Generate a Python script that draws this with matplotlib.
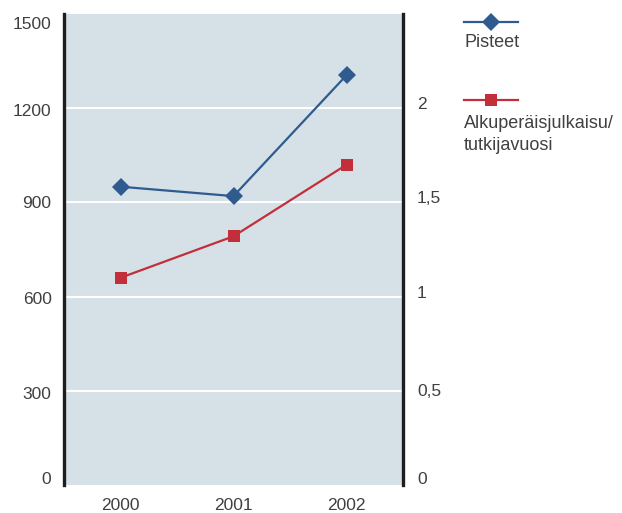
import matplotlib
matplotlib.use("Agg")
import matplotlib.pyplot as plt
from matplotlib.lines import Line2D
from matplotlib.ticker import FixedLocator, FuncFormatter
import matplotlib.transforms as mtransforms

plt.rcParams['font.family'] = ['Liberation Sans', 'DejaVu Sans']

years = [2000, 2001, 2002]
pisteet = [950, 920, 1305]
julkaisut_per_tutkija = [1.10, 1.32, 1.70]

left_ticks = [0, 300, 600, 900, 1200, 1500]
right_ticks = [0, 0.5, 1, 1.5, 2]
labels = ["Pisteet", "Alkuperäisjulkaisu/\ntutkijavuosi"]

blue = "#2f5b8f"
red = "#c22f3a"
bg = "#d6e1e7"
text_col = "#404040"
fs = 12.5

fig = plt.figure(figsize=(6.22, 5.13), dpi=100)
W, H = 622, 513
ax = fig.add_axes([64 / W, 1 - 485 / H, (403 - 64) / W, (485 - 14) / H])
ax.set_facecolor(bg)
ax.set_xlim(1999.5, 2002.5)
ax.set_ylim(0, 1500)

ax2 = ax.twinx()
ax2.set_ylim(0, 2.5)

# white horizontal grid
for v in left_ticks[1:-1]:
    ax.axhline(v, color="white", lw=1.5, zorder=1)

ax.plot(years, pisteet, color=blue, lw=1.6, marker="D", ms=8.8,
        markeredgewidth=0, zorder=3)
ax2.plot(years, julkaisut_per_tutkija, color=red, lw=1.6, marker="s", ms=8,
         markeredgewidth=0, zorder=3)

for a in (ax, ax2):
    for s in ("top", "bottom"):
        a.spines[s].set_visible(False)
    a.tick_params(length=0, labelsize=fs, labelcolor=text_col)
ax.spines["left"].set_linewidth(2.4)
ax.spines["left"].set_color("#1e1e1e")
ax.spines["right"].set_visible(False)
ax2.spines["left"].set_visible(False)
ax2.spines["right"].set_linewidth(2.4)
ax2.spines["right"].set_color("#1e1e1e")

ax.set_xticks(years)
ax.set_xticklabels([str(y) for y in years])
ax.tick_params(axis="x", pad=9)
ax.tick_params(axis="y", pad=9)
ax.yaxis.set_major_locator(FixedLocator(left_ticks))

ax2.yaxis.set_major_locator(FixedLocator(right_ticks))
ax2.yaxis.set_major_formatter(FuncFormatter(
    lambda v, p: ("%g" % v).replace(".", ",")))
ax2.tick_params(axis="y", pad=10)


def shift(label, dy_px):
    off = mtransforms.ScaledTranslation(0, dy_px / 100, fig.dpi_scale_trans)
    label.set_transform(label.get_transform() + off)


# end labels sit inside the axis span
left_shift = [7, -2, -1, 0, -2, -9]
right_shift = [7, 1, 5, 5, 5]
for lab, d in zip(ax.get_yticklabels(), left_shift):
    shift(lab, d)
for lab, d in zip(ax2.get_yticklabels(), right_shift):
    shift(lab, d)

# legend entries: handle above, text beneath
def fx(px):
    return px / W


def fy(py):
    return 1 - py / H


entries = [(blue, "D", 8.8, 22, [43]), (red, "s", 8, 100, [124, 145])]
for (col, mk, ms, ly, tys), lab in zip(entries, labels):
    fig.add_artist(Line2D([fx(464), fx(518)], [fy(ly), fy(ly)],
                          transform=fig.transFigure, color=col, lw=1.6))
    fig.add_artist(Line2D([fx(491)], [fy(ly)], transform=fig.transFigure,
                          color=col, marker=mk, ms=ms, markeredgewidth=0))
    for line, ty in zip(lab.split("\n"), tys):
        fig.text(fx(464), fy(ty), line, transform=fig.transFigure,
                 fontsize=13, color=text_col, ha="left", va="center")

fig.savefig("out.png", dpi=100)
